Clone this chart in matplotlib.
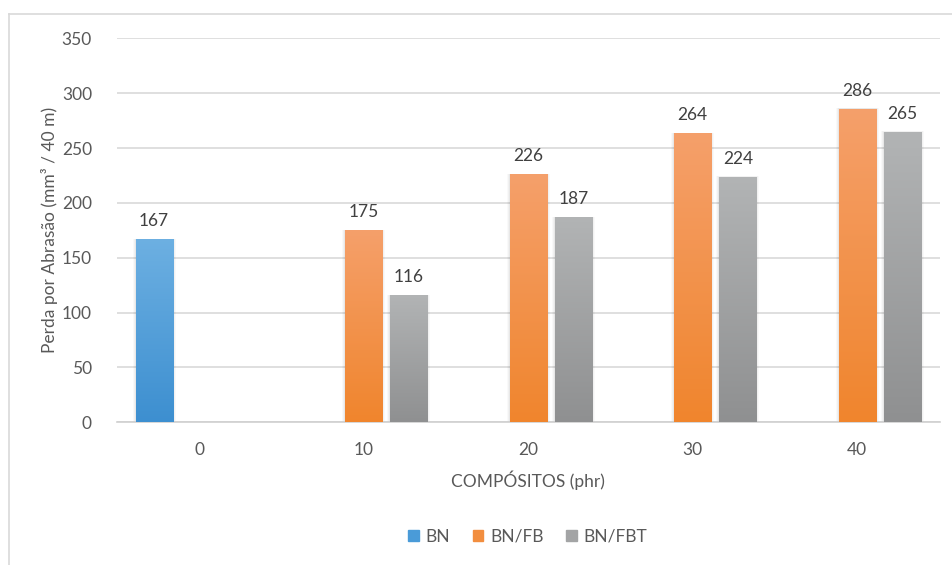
import numpy as np
import matplotlib
matplotlib.use("Agg")
import matplotlib.pyplot as plt
from matplotlib.colors import LinearSegmentedColormap
from matplotlib.patches import Rectangle
from matplotlib.lines import Line2D

plt.rcParams['font.family'] = ['Lato', 'DejaVu Sans']

categories = ["0", "10", "20", "30", "40"]
series_names = ["BN", "BN/FB", "BN/FBT"]
bn = [167, None, None, None, None]
bn_fb = [None, 175, 226, 264, 286]
bn_fbt = [None, 116, 187, 224, 265]
series_values = [bn, bn_fb, bn_fbt]
y_ticks = [0, 50, 100, 150, 200, 250, 300, 350]

# top / bottom colours of each series gradient
grad_colors = [("#6db0e2", "#3d8fd0"),
               ("#f5a06b", "#f0852d"),
               ("#b2b4b5", "#8f9091")]
legend_colors = ["#4a9bd8", "#f28e3f", "#a3a4a5"]

fig = plt.figure(figsize=(9.52, 5.65), dpi=100)
ax = fig.add_axes([117 / 952, 1 - 422.3 / 565, (939.5 - 117) / 952, (422.3 - 38.3) / 565])

# chart frame (left and top edges)
fig.add_artist(Line2D([8.5 / 952, 8.5 / 952], [0, 1 - 13.5 / 565], transform=fig.transFigure,
                      color="#d9d9d9", lw=1.2))
fig.add_artist(Line2D([8.5 / 952, 1], [1 - 13.5 / 565, 1 - 13.5 / 565], transform=fig.transFigure,
                      color="#d9d9d9", lw=1.2))

x = np.arange(len(categories))
slot = 0.274
width = 0.225
offsets = [-slot, 0, slot]

ax.set_xlim(-0.5, len(categories) - 0.5)
ax.set_ylim(0, 350)

for vals, off, (ctop, cbot) in zip(series_values, offsets, grad_colors):
    cmap = LinearSegmentedColormap.from_list("g", [cbot, ctop])
    for xi, v in zip(x, vals):
        if v is None:
            continue
        # faint soft shadow around the column
        for k, a in zip([0.018, 0.012, 0.006], [0.025, 0.03, 0.04]):
            ax.add_patch(Rectangle((xi + off - width / 2 - k, 0), width + 2 * k, v + k * 6,
                                   facecolor="#000000", alpha=a, lw=0, zorder=2))
        bar = ax.bar(xi + off, v, width=width, color="none", lw=0, zorder=3)[0]
        grad = np.linspace(0, 1, 256).reshape(-1, 1)
        im = ax.imshow(grad, cmap=cmap, origin="lower", aspect="auto",
                       extent=(xi + off - width / 2, xi + off + width / 2, 0, v), zorder=3)
        im.set_clip_path(bar)
        ax.annotate(f"{v}", (xi + off, v), xytext=(0, 13), textcoords="offset pixels",
                    ha="center", va="baseline", fontsize=12.5, color="#404040", zorder=5)

ax.set_xlim(-0.5, len(categories) - 0.5)
ax.set_ylim(0, 350)

ax.set_yticks(y_ticks)
ax.set_xticks(x)
ax.set_xticklabels(categories)
ax.yaxis.grid(True, color="#d9d9d9", lw=1.2)
ax.set_axisbelow(True)
for s in ["top", "right", "left"]:
    ax.spines[s].set_visible(False)
ax.spines["bottom"].set_color("#d0d0d0")
ax.spines["bottom"].set_linewidth(1.2)
ax.tick_params(axis="both", length=0, labelsize=12.5, labelcolor="#595959")
ax.tick_params(axis="y", pad=18)
ax.tick_params(axis="x", pad=14)

ax.set_xlabel("COMPÓSITOS (phr)", fontsize=12.5, color="#595959", labelpad=9)
ax.set_ylabel("Perda por Abrasão (mm³ / 40 m)", fontsize=12.5, color="#595959", labelpad=3)

handles = [Rectangle((0, 0), 1, 1, color=c) for c in legend_colors]
leg = fig.legend(handles, series_names, loc="center", bbox_to_anchor=(528 / 952, 1 - 537 / 565),
                 ncol=3, frameon=False, fontsize=12.5, handlelength=0.6, handleheight=0.6,
                 handletextpad=0.4, columnspacing=1.3)
for t in leg.get_texts():
    t.set_color("#595959")

fig.savefig("out.png", dpi=100, facecolor="white")
